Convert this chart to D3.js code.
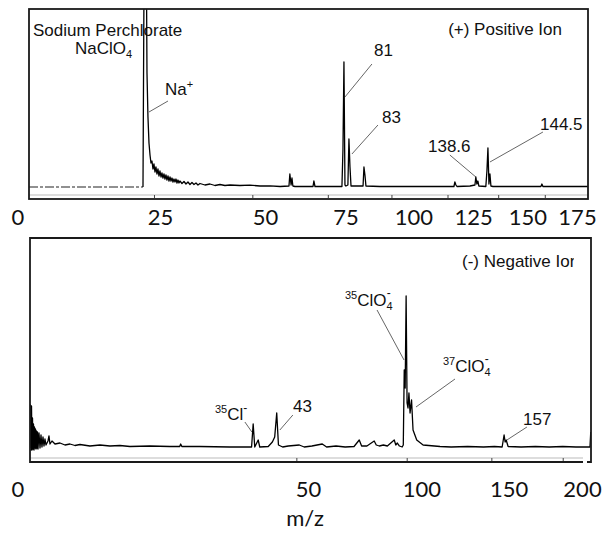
<!DOCTYPE html>
<html><head><meta charset="utf-8">
<script src="https://cdn.jsdelivr.net/npm/d3@7"></script>
<style>
html,body{margin:0;padding:0;background:#fff;}
svg{display:block;}
</style></head><body>
<svg id="c" width="606" height="533"></svg>
<script>
// ---------------- DATA ----------------
// (+) positive ion spectrum: m/z and relative intensity
const posMz = [22.74,22.94,23.2,23.45,23.55,23.75,23.96,24.17,24.37,24.58,
  24.79,25.0,25.21,25.42,25.63,25.85,26.06,26.28,26.5,26.71,
  26.93,27.15,27.37,27.59,27.81,28.04,28.26,28.49,28.71,28.94,
  29.16,29.39,29.62,29.85,30.08,30.31,30.54,30.77,31.24,31.72,
  32.19,32.67,33.15,33.64,34.13,34.63,35.12,35.62,36.89,38.18,
  39.49,40.82,42.18,43.56,46.38,49.29,52.3,55.4,58.6,61.5,
  61.8,62.2,62.5,62.8,63.5,69.7,70.0,70.4,75.8,80.24,
  80.62,81.0,81.38,81.76,82.5,82.9,83.3,83.7,88.4,88.76,
  89.15,89.55,95.2,103.6,112.4,121.5,128.05,128.5,129.0,129.5,
  135.8,138.25,138.7,139.2,139.7,140.2,143.7,144.25,144.76,145.27,
  145.78,146.28,147.3,156.1,172.85,173.4,173.96,183.5,199.9];
const posInt = [0,200,200,200,114,70,44,32,24,26,
  18,23,15,20,13,18,11,16,10,14,
  9,13,8,12,7,11,6,10,6,9,
  5,8,5,8,4,7,4,6,3.5,5.5,
  3,5,2.5,4.5,2.5,4,2,3.5,2,3,
  1.5,2.5,1.5,2,1.5,1.8,1,1.2,0.5,1,
  13,2,9,1,0.5,0.5,6,0.5,0.5,0.5,
  37,125,2,1,2,48,20,1,1,20,
  12,1,0.5,0.5,0.5,0.5,0.5,5,2,0.5,
  1,2,10,3,6,1,0.5,16,39,3,
  13,1,0.5,0.5,0.5,3,0.5,0.5,0.5];
// flat (dashed) baseline before the Na+ peak
const posPreMz = [5.61, 22.74];
const posPreInt = [0, 0];

// (-) negative ion spectrum
const negMz = [0,0.00018,0.0007,0.0016,0.0028,0.0044,0.0063,0.0086,0.0113,0.0142,
  0.0176,0.0213,0.0253,0.0297,0.0345,0.0396,0.045,0.057,0.0704,0.0851,
  0.101,0.119,0.138,0.158,0.18,0.228,0.254,0.281,0.341,0.44,
  0.633,0.862,1.126,1.425,1.76,2.53,3.45,4.5,5.7,7.04,
  10.1,13.8,15.8,16.0,16.25,20.3,28.1,32.5,34.6,35.1,
  35.6,36.7,37.2,40,41.4,42.2,42.9,43.5,45,47,
  51.1,53,56,60.2,62,66,70,74,76.4,77.5,
  80,83.5,84.5,86,88,90,93.5,94.3,95.1,96.2,
  97.6,98.2,98.7,99.2,99.7,100.2,100.7,101.2,101.8,102.6,
  103.4,105.4,108.9,118.5,125,135,145,152,157.1,158.4,
  159.1,159.8,161.1,170,180,190,200,210,221.0,221.6];
const negInt = [0,43,-2,42,-2,30,-1,24,-2,21,
  0,19,-1,17,0,16,-1,15,0,13,
  1,11,2,9,3,7,12,4,7,4,
  5,3,4,2.5,3.5,2,3,2,2.5,1.5,
  2,1.5,1.5,4,1.5,1.5,1,1,1,24,
  1,8,1,1.5,6,11,35,3,1,2,
  3,1,2,4,1,2,1,1.5,8,2,
  2,7,3,2,3,2,8,3,5,2,
  1,3,78,60,152,45,40,55,35,48,
  18,8,3,1.5,1,1.5,1,1.5,1,13,
  6,8,1.5,1,1.5,1,1.5,1,1,16];

// axis ticks and labels
const posTicks = [25, 50, 75, 100, 125, 150, 175];
const posTickLabels = ["25", "50", "75", "100", "125", "150", "175"];
const negTicks = [50, 100, 150, 200];
const negTickLabels = ["50", "100", "150", "200"];
const originLabel = "0";
const xTitle = "m/z";
const posTitle = "(+) Positive Ion";
const negTitle = "(-) Negative Ion";

// ---------------- DRAW ----------------
const svg = d3.select("#c");
const FONT = "'Liberation Sans', Arial, sans-serif";
const TFONT = "Lato, 'Open Sans', sans-serif";

// panel geometry
const T = {l: 29, r: 588, t: 9, b: 199, axisY: 195, base: 187};
const B = {l: 30, r: 591, t: 238, b: 462, axisY: 458, base: 448, axisR: 583};

const xT = d3.scalePow().exponent(0.5).domain([5.61, 199.9]).range([T.l, T.r]);
const yT = d3.scaleLinear().domain([0, 178]).range([T.base, T.base - 178]);
const xB = d3.scalePow().exponent(0.5).domain([0, 221.8]).range([B.l, B.r]);
const yB = d3.scaleLinear().domain([0, 210]).range([B.base, B.base - 210]);

// tick-label scales (labels sit offset from ticks in the original)
const labT = d3.scalePow().exponent(0.5).domain([25, 175]).range([160, 577]);
const labB = d3.scalePow().exponent(0.5).domain([50, 200]).range([308, 582]);

const defs = svg.append("defs");
defs.append("clipPath").attr("id", "clipT").append("rect")
  .attr("x", T.l).attr("y", T.t).attr("width", T.r - T.l).attr("height", T.b - T.t);
defs.append("clipPath").attr("id", "clipB").append("rect")
  .attr("x", B.l).attr("y", B.t).attr("width", B.r - B.l).attr("height", B.b - B.t);
defs.append("clipPath").attr("id", "clipNegTitle").append("rect")
  .attr("x", 400).attr("y", 240).attr("width", 174).attr("height", 40);

function txt(g, x, y, parts, size) {
  const t = g.append("text").attr("x", x).attr("y", y)
    .attr("font-family", FONT).attr("font-size", size || 17).attr("fill", "#111");
  parts.forEach(p => {
    const s = t.append("tspan").text(p.t);
    if (p.fs) s.attr("font-size", p.fs);
    if (p.dy) s.attr("dy", p.dy);
    if (p.dx) s.attr("dx", p.dx);
  });
  return t;
}

function leader(g, x, y, mz, I, dx, dy) {
  const x0 = x(mz), y0 = y(I);
  g.append("line").attr("x1", x0).attr("y1", y0).attr("x2", x0 + dx).attr("y2", y0 + dy)
    .attr("stroke", "#666").attr("stroke-width", 1);
}

// ---------- Top panel ----------
const gT = svg.append("g");
gT.append("line").attr("x1", T.l).attr("x2", T.r).attr("y1", T.axisY).attr("y2", T.axisY)
  .attr("stroke", "#bbb").attr("stroke-width", 1);
const axT = gT.append("g").attr("transform", `translate(0,${T.axisY})`)
  .call(d3.axisBottom(xT).tickValues(posTicks).tickSize(3).tickFormat(""));
axT.select(".domain").remove();
axT.selectAll(".tick line").attr("stroke", "#444");

txt(gT, 33, 36, [{t: "Sodium Perchlorate"}]);
txt(gT, 75, 54, [{t: "NaClO"}, {t: "4", fs: 11, dy: 4}]);
txt(gT, 165, 95, [{t: "Na"}, {t: "+", fs: 11, dy: -7}]);
gT.append("text").attr("x", 562).attr("y", 35).attr("text-anchor", "end")
  .attr("font-family", FONT).attr("font-size", 17).attr("fill", "#111").text(posTitle);
txt(gT, 374, 56, [{t: "81"}]);
txt(gT, 382, 123, [{t: "83"}]);
txt(gT, 428, 152, [{t: "138.6"}]);
txt(gT, 540, 130, [{t: "144.5"}]);

leader(gT, xT, yT, 23.96, 75, 19, -11);
leader(gT, xT, yT, 81.38, 90, 27, -33);
leader(gT, xT, yT, 84.06, 33, 26, -29);
leader(gT, xT, yT, 138.7, 10, -26, -22);
leader(gT, xT, yT, 145.78, 25, 53, -30);

const lineT = d3.line().x(d => xT(d[0])).y(d => yT(d[1]));
const gTD = gT.append("g").attr("clip-path", "url(#clipT)");
gTD.append("path").datum(d3.zip(posPreMz, posPreInt)).attr("d", lineT)
  .attr("fill", "none").attr("stroke", "#222").attr("stroke-width", 1.1)
  .attr("stroke-dasharray", "9,2,3,2");
gTD.append("path").datum(d3.zip(posMz, posInt)).attr("d", lineT)
  .attr("fill", "none").attr("stroke", "#000").attr("stroke-width", 1.3)
  .attr("stroke-linejoin", "round");

gT.append("rect").attr("x", T.l).attr("y", T.t).attr("width", T.r - T.l).attr("height", T.b - T.t)
  .attr("fill", "none").attr("stroke", "#1a1a1a").attr("stroke-width", 1.8);

// tick labels
const tl = svg.append("g").attr("font-family", TFONT).attr("font-size", 22).attr("fill", "#111");
tl.append("text").attr("x", 18).attr("y", 225).attr("text-anchor", "middle").text(originLabel);
const laT = tl.append("g").attr("transform", "translate(0,225)")
  .call(d3.axisBottom(labT).tickValues(posTicks).tickSize(0).tickPadding(0)
    .tickFormat((d, i) => posTickLabels[i]));
laT.select(".domain").remove();
laT.selectAll("text").attr("dy", null).attr("y", 0)
  .attr("font-family", TFONT).attr("font-size", 22).attr("fill", "#111");

// ---------- Bottom panel ----------
const gB = svg.append("g");
gB.append("line").attr("x1", B.l).attr("x2", B.axisR).attr("y1", B.axisY).attr("y2", B.axisY)
  .attr("stroke", "#bbb").attr("stroke-width", 1);
const axB = gB.append("g").attr("transform", `translate(0,${B.axisY})`)
  .call(d3.axisBottom(xB).tickValues(negTicks).tickSize(3).tickFormat(""));
axB.select(".domain").remove();
axB.selectAll(".tick line").attr("stroke", "#444");

gB.append("text").attr("x", 462).attr("y", 267).attr("clip-path", "url(#clipNegTitle)")
  .attr("font-family", FONT).attr("font-size", 17).attr("fill", "#111").text(negTitle);
txt(gB, 345, 306, [{t: "35", fs: 11, dy: -7}, {t: "ClO", dy: 7}, {t: "4", fs: 11, dy: 4}, {t: "-", fs: 12, dy: -13, dx: -6}]);
txt(gB, 443, 372, [{t: "37", fs: 11, dy: -7}, {t: "ClO", dy: 7}, {t: "4", fs: 11, dy: 4}, {t: "-", fs: 12, dy: -13, dx: -6}]);
txt(gB, 215, 420, [{t: "35", fs: 11, dy: -7}, {t: "Cl", dy: 7}, {t: "-", fs: 12, dy: -8}]);
txt(gB, 293, 412, [{t: "43"}]);
txt(gB, 523, 425, [{t: "157"}]);

leader(gB, xB, yB, 34.7, 16, -7, -10);
leader(gB, xB, yB, 44.0, 18, 13, -15);
leader(gB, xB, yB, 98.6, 88, -27, -50);
leader(gB, xB, yB, 105.0, 41, 39, -28);
leader(gB, xB, yB, 160.3, 8, 20, -13);

const lineB = d3.line().x(d => xB(d[0])).y(d => yB(d[1]));
gB.append("g").attr("clip-path", "url(#clipB)")
  .append("path").datum(d3.zip(negMz, negInt)).attr("d", lineB)
  .attr("fill", "none").attr("stroke", "#000").attr("stroke-width", 1.3)
  .attr("stroke-linejoin", "round");

gB.append("path")
  .attr("d", `M${B.axisR},${B.b}H${B.l}V${B.t}H${B.r}V${B.b}H${B.r - 4}`)
  .attr("fill", "none").attr("stroke", "#1a1a1a").attr("stroke-width", 1.8);

tl.append("text").attr("x", 18).attr("y", 497).attr("text-anchor", "middle").text(originLabel);
const laB = tl.append("g").attr("transform", "translate(0,497)")
  .call(d3.axisBottom(labB).tickValues(negTicks).tickSize(0).tickPadding(0)
    .tickFormat((d, i) => negTickLabels[i]));
laB.select(".domain").remove();
laB.selectAll("text").attr("dy", null).attr("y", 0)
  .attr("font-family", TFONT).attr("font-size", 22).attr("fill", "#111");

tl.append("text").attr("x", 305).attr("y", 526).attr("text-anchor", "middle").text(xTitle);
</script>
</body></html>
